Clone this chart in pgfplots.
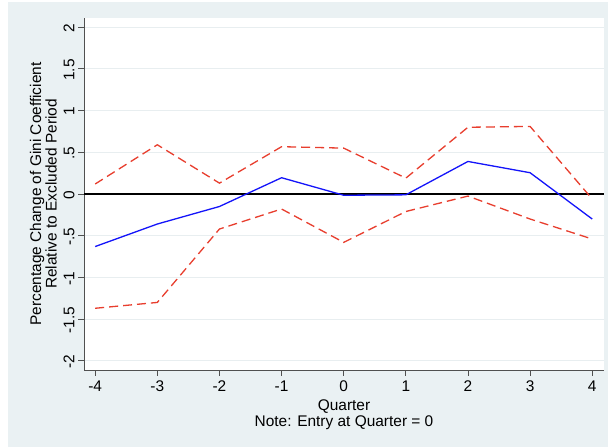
\documentclass[border=0pt]{standalone}
\usepackage{pgfplots}
\pgfplotsset{compat=1.18}
\usepackage{fontspec}
\setmainfont{Liberation Sans}
\definecolor{bgc}{RGB}{234,241,243}
\definecolor{gridc}{RGB}{232,238,240}
\definecolor{redc}{RGB}{232,62,46}
\definecolor{bluec}{RGB}{20,20,250}
\definecolor{axc}{RGB}{80,80,80}
\begin{document}
\begin{tikzpicture}[x=1bp,y=1bp]
\fill[white] (0,0) rectangle (608,447);
\fill[bgc] (8,0) rectangle (608,445);
\begin{axis}[
  at={(84bp,77bp)}, anchor=south west,
  scale only axis, width=520bp, height=352bp,
  xmin=-4.18, xmax=4.19, ymin=-2.11, ymax=2.11,
  axis background/.style={fill=white},
  separate axis lines,
  axis x line*=bottom, axis y line*=left,
  x axis line style={-, color=axc, line width=0.9bp},
  y axis line style={-, color=axc, line width=0.9bp},
  tick align=outside, major tick length=6bp,
  tick style={color=axc, line width=0.8bp},
  xtick={-4,-3,-2,-1,0,1,2,3,4},
  xticklabels={-4,-3,-2,-1,0,1,2,3,4},
  ytick={-2,-1.5,-1,-0.5,0,0.5,1,1.5,2},
  yticklabels={-2,-1.5,-1,-.5,0,.5,1,1.5,2},
  ymajorgrids, grid style={color=gridc, line width=1bp},
  font=\fontsize{15.5}{17}\selectfont,
  yticklabel style={rotate=90, anchor=south, xshift=-1bp, font=\fontsize{15.5}{17}\selectfont},
  xticklabel style={yshift=-1bp, font=\fontsize{15.5}{17}\selectfont},
  xlabel={Quarter\\Note: Entry at Quarter = 0},
  xlabel style={align=center, yshift=-1bp, font=\fontsize{15.5}{16}\selectfont},
  ylabel={Percentage Change of Gini Coefficient\\Relative to Excluded Period},
  ylabel style={align=center, font=\fontsize{15.5}{14}\selectfont},
  clip=false,
]
\addplot[black, line width=1.3bp] coordinates {(-4.18,0) (4.19,0)};
\addplot[redc, line width=1.3bp, dash pattern=on 9bp off 5bp] coordinates {
(-4,0.12) (-3,0.59) (-2,0.13) (-1,0.567) (0,0.55) (1,0.19) (2,0.80) (3,0.81) (4,-0.06)};
\addplot[redc, line width=1.3bp, dash pattern=on 9bp off 5bp] coordinates {
(-4,-1.37) (-3,-1.30) (-2,-0.42) (-1,-0.18) (0,-0.58) (1,-0.21) (2,-0.025) (3,-0.30) (4,-0.54)};
\addplot[bluec, line width=1.3bp] coordinates {
(-4,-0.63) (-3,-0.36) (-2,-0.15) (-1,0.195) (0,-0.015) (1,-0.01) (2,0.39) (3,0.255) (4,-0.30)};
\end{axis}
\pgfresetboundingbox
\path (0,0) rectangle (608,447);
\end{tikzpicture}
\end{document}
